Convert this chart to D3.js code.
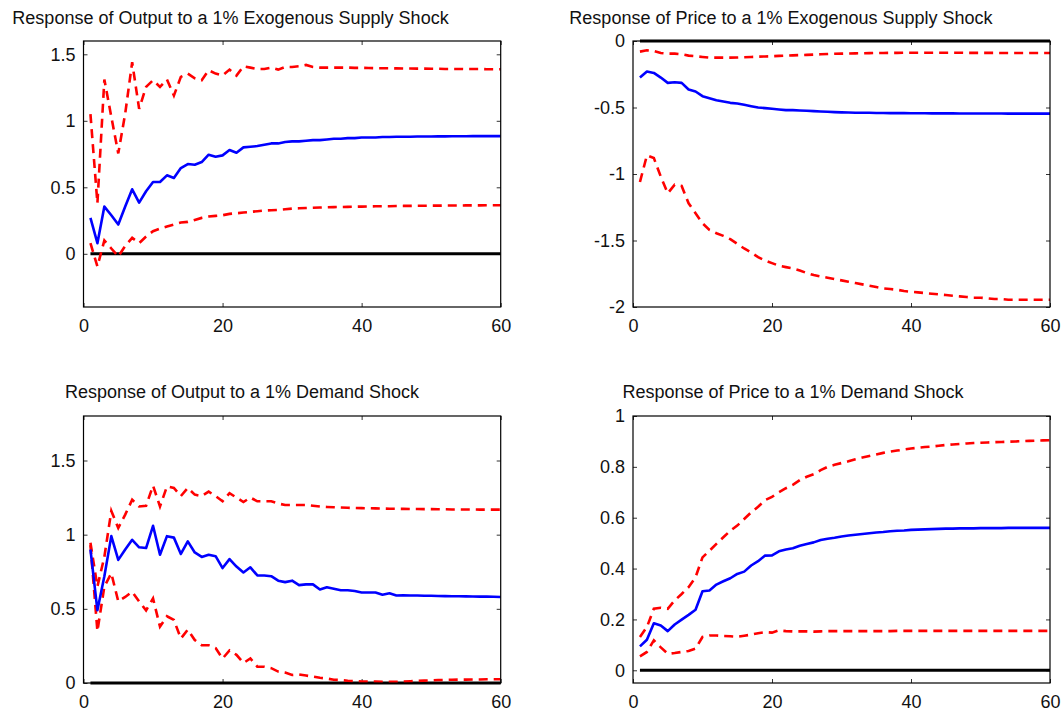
<!DOCTYPE html>
<html>
<head>
<meta charset="utf-8">
<script src="https://cdn.jsdelivr.net/npm/d3@7"></script>
<style>
  body { margin: 0; background: #fff; }
  svg text { font-family: "Liberation Sans", Arial, sans-serif; fill: #111; }
</style>
</head>
<body>
<div id="vis"></div>
<script>
// horizon (periods after the shock)
const periods = d3.range(1, 61)

// Output response to exogenous supply shock
const outSupplyMid = [
  0.27, 0.08, 0.355, 0.29, 0.22, 0.355, 0.485, 0.385, 0.47, 0.54,
  0.54, 0.59, 0.57, 0.645, 0.675, 0.67, 0.69, 0.745, 0.73, 0.74,
  0.78, 0.76, 0.80, 0.805, 0.81, 0.82, 0.83, 0.83, 0.84, 0.845,
  0.845, 0.85, 0.855, 0.855, 0.86, 0.865, 0.865, 0.87, 0.87, 0.875,
  0.875, 0.875, 0.878, 0.878, 0.88, 0.88, 0.88, 0.882, 0.882, 0.882,
  0.883, 0.883, 0.884, 0.884, 0.884, 0.885, 0.885, 0.885, 0.885, 0.885
]
const outSupplyHi = [
  1.05, 0.38, 1.31, 1.03, 0.755, 1.055, 1.44, 1.09, 1.255, 1.305,
  1.255, 1.31, 1.19, 1.33, 1.355, 1.32, 1.305, 1.38, 1.355, 1.34,
  1.385, 1.34, 1.41, 1.40, 1.39, 1.39, 1.40, 1.385, 1.405, 1.405,
  1.41, 1.42, 1.405, 1.40, 1.40, 1.40, 1.40, 1.40, 1.398, 1.398,
  1.397, 1.396, 1.395, 1.395, 1.394, 1.393, 1.393, 1.392, 1.392, 1.391,
  1.391, 1.39, 1.39, 1.39, 1.389, 1.389, 1.389, 1.388, 1.388, 1.388
]
const outSupplyLo = [
  0.08, -0.095, 0.10, 0.04, -0.02, 0.06, 0.12, 0.08, 0.13, 0.17,
  0.19, 0.205, 0.22, 0.235, 0.24, 0.255, 0.27, 0.28, 0.285, 0.29,
  0.30, 0.305, 0.31, 0.315, 0.32, 0.325, 0.328, 0.33, 0.335, 0.34,
  0.342, 0.344, 0.346, 0.348, 0.35, 0.351, 0.352, 0.353, 0.354, 0.355,
  0.356, 0.357, 0.358, 0.358, 0.359, 0.36, 0.36, 0.361, 0.361, 0.362,
  0.362, 0.363, 0.363, 0.363, 0.364, 0.364, 0.364, 0.365, 0.365, 0.365
]

// Price response to exogenous supply shock
const priceSupplyMid = [
  -0.275, -0.23, -0.24, -0.275, -0.315, -0.31, -0.315, -0.365, -0.38, -0.415,
  -0.43, -0.445, -0.455, -0.465, -0.47, -0.48, -0.49, -0.50, -0.505, -0.51,
  -0.515, -0.52, -0.52, -0.522, -0.525, -0.527, -0.53, -0.532, -0.535, -0.537,
  -0.538, -0.539, -0.54, -0.54, -0.541, -0.541, -0.542, -0.542, -0.542, -0.543,
  -0.543, -0.543, -0.544, -0.544, -0.544, -0.544, -0.545, -0.545, -0.545, -0.545,
  -0.545, -0.545, -0.545, -0.546, -0.546, -0.546, -0.546, -0.546, -0.546, -0.546
]
const priceSupplyHi = [
  -0.08, -0.07, -0.075, -0.09, -0.095, -0.095, -0.10, -0.11, -0.115, -0.12,
  -0.125, -0.125, -0.125, -0.125, -0.124, -0.122, -0.12, -0.118, -0.116, -0.115,
  -0.112, -0.11, -0.108, -0.106, -0.104, -0.102, -0.10, -0.098, -0.096, -0.095,
  -0.094, -0.093, -0.092, -0.091, -0.09, -0.09, -0.089, -0.089, -0.088, -0.088,
  -0.088, -0.088, -0.088, -0.088, -0.088, -0.088, -0.088, -0.089, -0.089, -0.089,
  -0.089, -0.089, -0.09, -0.09, -0.09, -0.09, -0.09, -0.09, -0.09, -0.09
]
const priceSupplyLo = [
  -1.06, -0.86, -0.88, -1.02, -1.145, -1.08, -1.09, -1.22, -1.295, -1.37,
  -1.42, -1.445, -1.465, -1.49, -1.525, -1.56, -1.59, -1.625, -1.65, -1.67,
  -1.69, -1.70, -1.71, -1.725, -1.745, -1.76, -1.77, -1.78, -1.79, -1.80,
  -1.81, -1.82, -1.83, -1.84, -1.85, -1.86, -1.865, -1.87, -1.88, -1.885,
  -1.89, -1.895, -1.90, -1.905, -1.91, -1.915, -1.92, -1.925, -1.93, -1.93,
  -1.935, -1.94, -1.94, -1.945, -1.945, -1.945, -1.945, -1.945, -1.945, -1.945
]

// Output response to demand shock
const outDemandMid = [
  0.90, 0.49, 0.72, 0.99, 0.83, 0.90, 0.965, 0.915, 0.91, 1.06,
  0.865, 0.99, 0.98, 0.87, 0.955, 0.88, 0.85, 0.865, 0.855, 0.775,
  0.835, 0.785, 0.745, 0.78, 0.725, 0.725, 0.72, 0.69, 0.68, 0.69,
  0.66, 0.665, 0.665, 0.63, 0.645, 0.635, 0.625, 0.625, 0.62, 0.61,
  0.61, 0.61, 0.595, 0.605, 0.59, 0.592, 0.59, 0.59, 0.588, 0.588,
  0.587, 0.586, 0.585, 0.585, 0.584, 0.583, 0.582, 0.582, 0.581, 0.58
]
const outDemandHi = [
  0.945, 0.65, 0.85, 1.16, 1.045, 1.135, 1.235, 1.19, 1.195, 1.33,
  1.19, 1.325, 1.315, 1.26, 1.315, 1.27, 1.26, 1.29, 1.26, 1.225,
  1.28, 1.25, 1.22, 1.25, 1.225, 1.225, 1.225, 1.21, 1.20, 1.20,
  1.20, 1.20, 1.195, 1.19, 1.187, 1.185, 1.183, 1.181, 1.18, 1.179,
  1.178, 1.177, 1.176, 1.175, 1.174, 1.174, 1.173, 1.173, 1.172, 1.172,
  1.171, 1.171, 1.17, 1.17, 1.17, 1.17, 1.169, 1.169, 1.169, 1.169
]
const outDemandLo = [
  0.93, 0.35, 0.65, 0.74, 0.55, 0.58, 0.615, 0.55, 0.49, 0.57,
  0.38, 0.45, 0.425, 0.30, 0.36, 0.29, 0.255, 0.255, 0.235, 0.165,
  0.22, 0.19, 0.135, 0.165, 0.11, 0.11, 0.10, 0.077, 0.07, 0.054,
  0.058, 0.05, 0.043, 0.035, 0.03, 0.022, 0.02, 0.015, 0.012, 0.01,
  0.01, 0.01, 0.008, 0.008, 0.008, 0.01, 0.012, 0.014, 0.016, 0.018,
  0.02, 0.021, 0.022, 0.023, 0.023, 0.024, 0.024, 0.025, 0.025, 0.025
]

// Price response to demand shock
const priceDemandMid = [
  0.094, 0.12, 0.185, 0.176, 0.154, 0.18, 0.199, 0.218, 0.238, 0.311,
  0.314, 0.337, 0.35, 0.362, 0.379, 0.388, 0.412, 0.429, 0.451, 0.452,
  0.468, 0.475, 0.48, 0.49, 0.497, 0.503, 0.512, 0.517, 0.521, 0.526,
  0.53, 0.533, 0.536, 0.539, 0.542, 0.544, 0.547, 0.549, 0.55, 0.552,
  0.553, 0.554, 0.555, 0.556, 0.557, 0.557, 0.558, 0.558, 0.558, 0.559,
  0.559, 0.559, 0.559, 0.56, 0.56, 0.56, 0.56, 0.56, 0.56, 0.56
]
const priceDemandHi = [
  0.131, 0.17, 0.242, 0.246, 0.242, 0.275, 0.30, 0.327, 0.366, 0.444,
  0.47, 0.497, 0.523, 0.549, 0.569, 0.595, 0.621, 0.643, 0.669, 0.682,
  0.70, 0.716, 0.729, 0.748, 0.761, 0.771, 0.787, 0.80, 0.808, 0.815,
  0.822, 0.83, 0.837, 0.843, 0.849, 0.855, 0.86, 0.864, 0.868, 0.872,
  0.875, 0.878, 0.88, 0.883, 0.886, 0.888, 0.89, 0.892, 0.894, 0.895,
  0.896, 0.897, 0.898, 0.899, 0.90, 0.901, 0.902, 0.903, 0.904, 0.905
]
const priceDemandLo = [
  0.055, 0.072, 0.118, 0.09, 0.065, 0.068, 0.072, 0.076, 0.085, 0.131,
  0.137, 0.137, 0.135, 0.134, 0.132, 0.136, 0.14, 0.146, 0.15, 0.148,
  0.157, 0.154, 0.153, 0.153, 0.153, 0.152, 0.153, 0.154, 0.154, 0.154,
  0.154, 0.154, 0.154, 0.154, 0.154, 0.154, 0.154, 0.155, 0.155, 0.155,
  0.155, 0.155, 0.155, 0.155, 0.155, 0.155, 0.155, 0.155, 0.155, 0.155,
  0.155, 0.155, 0.155, 0.155, 0.155, 0.155, 0.155, 0.155, 0.155, 0.155
]

const titles = [
  "Response of Output to a 1% Exogenous Supply Shock",
  "Response of Price to a 1% Exogenous Supply Shock",
  "Response of Output to a 1% Demand Shock",
  "Response of Price to a 1% Demand Shock"
]
const xTicks = [0, 20, 40, 60]
const yTicks = [
  [0, 0.5, 1, 1.5],
  [-2, -1.5, -1, -0.5, 0],
  [0, 0.5, 1, 1.5],
  [0, 0.2, 0.4, 0.6, 0.8, 1]
]
const yDomains = [[-0.4, 1.6], [-2, 0], [0, 1.8], [-0.05, 1]]
const series = [
  [outSupplyMid, outSupplyHi, outSupplyLo],
  [priceSupplyMid, priceSupplyHi, priceSupplyLo],
  [outDemandMid, outDemandHi, outDemandLo],
  [priceDemandMid, priceDemandHi, priceDemandLo]
]

// box positions in the page (px)
const boxes = [
  { left: 83.5, top: 41, right: 500.7, bottom: 307, titleX: 230.5, titleY: 23.5 },
  { left: 633, top: 41, right: 1050, bottom: 307, titleX: 781, titleY: 23.5 },
  { left: 83.5, top: 416, right: 500.7, bottom: 683, titleX: 242, titleY: 398 },
  { left: 633, top: 416, right: 1050, bottom: 683, titleX: 793, titleY: 398 }
]

const svg = d3.select('#vis')
  .append('svg')
  .attr('width', 1061)
  .attr('height', 717)

boxes.forEach((b, i) => drawPanel(i, b))

function drawPanel(i, b) {
  const w = b.right - b.left
  const h = b.bottom - b.top
  const g = svg.append('g').attr('transform', `translate(${b.left},${b.top})`)

  const x = d3.scaleLinear().domain([0, 60]).range([0, w])
  const y = d3.scaleLinear().domain(yDomains[i]).range([h, 0])

  svg.append('text')
    .attr('x', b.titleX).attr('y', b.titleY)
    .attr('text-anchor', 'middle')
    .style('font-size', '18px')
    .text(titles[i])

  // inward ticks on all four sides, labels only left and bottom
  // plain hyphen for negatives, like the original figure
  const fmt = d => String(d)
  const axes = [
    [d3.axisLeft(y).tickValues(yTicks[i]).tickFormat(fmt).tickSize(-4).tickPadding(8), 0, 0],
    [d3.axisRight(y).tickValues(yTicks[i]).tickFormat('').tickSize(-4), w, 0],
    [d3.axisBottom(x).tickValues(xTicks).tickFormat(fmt).tickSize(-4).tickPadding(12), 0, h],
    [d3.axisTop(x).tickValues(xTicks).tickFormat('').tickSize(-4), 0, 0]
  ]
  axes.forEach(([ax, tx, ty]) => {
    const a = g.append('g').attr('transform', `translate(${tx},${ty})`).call(ax)
    a.select('.domain').remove()
    a.selectAll('line').attr('stroke', '#333')
    a.selectAll('text').style('font-size', '18px').attr('fill', '#111')
  })

  const line = d3.line()
    .x((d, k) => x(periods[k]))
    .y(d => y(d))

  // zero line
  g.append('path')
    .datum(periods.map(() => 0))
    .attr('d', line)
    .attr('fill', 'none')
    .attr('stroke', '#000')
    .attr('stroke-width', 3)

  const [mid, hi, lo] = series[i]
  ;[hi, lo].forEach(s => {
    g.append('path')
      .datum(s)
      .attr('d', line)
      .attr('fill', 'none')
      .attr('stroke', '#ff0000')
      .attr('stroke-width', 2.6)
      .attr('stroke-dasharray', '9,6')
  })
  g.append('path')
    .datum(mid)
    .attr('d', line)
    .attr('fill', 'none')
    .attr('stroke', '#0000ff')
    .attr('stroke-width', 2.6)
    .attr('stroke-linejoin', 'round')

  g.append('rect')
    .attr('width', w).attr('height', h)
    .attr('fill', 'none')
    .attr('stroke', '#000')
    .attr('stroke-width', 1.2)
}
</script>
</body>
</html>
